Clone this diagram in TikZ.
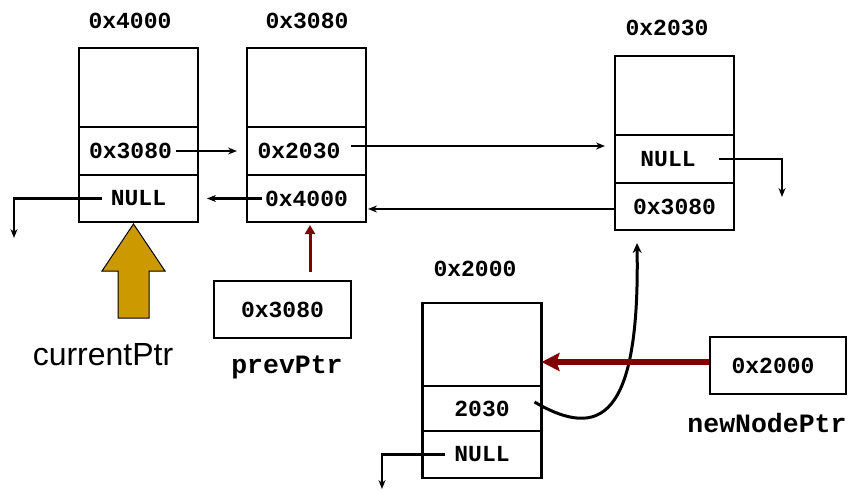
\documentclass[tikz,border=0pt]{standalone}
\usepackage{fontspec}
\setmainfont{Liberation Sans}
\setmonofont{Liberation Mono}
\usepackage{tikz}
\usetikzlibrary{arrows.meta, positioning}
\definecolor{gold}{HTML}{CC9900}
\definecolor{darkred}{HTML}{800000}
\newcommand{\addrfont}{\ttfamily\bfseries\fontsize{23}{26}\selectfont}
\newcommand{\pad}[1]{\rule{#1}{0pt}}

\begin{document}
\begin{tikzpicture}[x=1pt, y=-1pt,
    cell/.style={draw, line width=2.8pt, minimum width=119pt, inner sep=0pt, outer sep=0pt, font=\addrfont},
    ptrbox/.style={draw, line width=2.8pt, minimum width=137pt, minimum height=57pt, inner sep=0pt, font=\addrfont},
    addr/.style={font=\addrfont},
    varname/.style={font=\ttfamily\bfseries\fontsize{26.5}{28}\selectfont},
    link/.style={line width=2.2pt, -{Stealth[length=9pt, width=7pt]}}]
  \useasboundingbox (0,0) rectangle (851,490);

  % node at 0x4000
  \node[cell, minimum height=79pt] (a1) at (138.5,87.5) {};
  \node[cell, minimum height=48pt, below=0pt of a1] (a2) {0x3080\pad{16pt}};
  \node[cell, minimum height=47pt, below=0pt of a2] (a3) {NULL};
  \node[addr] (la) at (130,21) {0x4000};

  % node at 0x3080
  \node[cell, minimum height=79pt] (b1) at (306.5,87.5) {};
  \node[cell, minimum height=48pt, below=0pt of b1] (b2) {0x2030\pad{15pt}};
  \node[cell, minimum height=47pt, below=0pt of b2] (b3) {0x4000};
  \node[addr] (lb) at (307,21) {0x3080};

  % node at 0x2030
  \node[cell, minimum height=79pt] (c1) at (674.5,95.5) {};
  \node[cell, minimum height=48pt, below=0pt of c1] (c2) {NULL\pad{13pt}};
  \node[cell, minimum height=47pt, below=0pt of c2] (c3) {0x3080};
  \node[addr] (lc) at (667,28) {0x2030};

  % new node at 0x2000
  \node[cell, minimum height=83pt] (d1) at (482,344.5) {};
  \node[cell, minimum height=45pt, below=0pt of d1] (d2) {2030};
  \node[cell, minimum height=47pt, below=0pt of d2] (d3) {NULL};
  \node[addr] (ld) at (475,269) {0x2000};

  % pointer variables
  \node[ptrbox] (pp) at (282.5,309.5) {0x3080};
  \node[varname] (lpp) at (287,367) {prevPtr};
  \node[ptrbox, minimum width=136pt] (np) at (778,365.5) {0x2000\pad{10pt}};
  \node[varname] (lnp) at (767,423) {newNodePtr};
  \node[font=\fontsize{32}{34}\selectfont] (cur) at (103,355) {currentPtr};

  \coordinate (anull) at (14,238);
  \coordinate (cnull) at (782,197);
  \coordinate (dnull) at (382,489);

  % next / prev links
  \draw[link] ([xshift=-22pt]a2.east) -- ([xshift=-10pt]b2.west);
  \draw[link] ([xshift=-15pt,yshift=5pt]b2.east) -- ([xshift=-10pt,yshift=13pt]c2.west);
  \draw[link] ([xshift=15pt]b3.west) -- ([xshift=9pt]a3.east);
  \draw[link] ([yshift=-2.5pt]c3.west) -- ([xshift=2pt,yshift=-10.5pt]b3.east);
  \draw[link] ([xshift=23pt]a3.west) -| (anull);
  \draw[link] ([xshift=-15pt]c2.east) -| (cnull);
  \draw[link] ([xshift=22pt]d3.west) -| (dnull);
  \draw[line width=3pt, -{Stealth[length=10pt, width=9pt]}]
    ([xshift=-7pt,yshift=6.5pt]d2.east) .. controls +(65,38) and +(3,177) .. ([xshift=22pt,yshift=-13pt]c3.south west);

  % pointers into the list
  \draw[line width=3pt, darkred, -{Triangle[length=9pt, width=10pt]}]
    ([xshift=27.5pt,yshift=8pt]pp.north) -- ([xshift=3.5pt,yshift=-3pt]b3.south);
  \draw[line width=6pt, darkred, -{Stealth[length=18pt, width=18pt, inset=3pt]}]
    ([yshift=3.5pt]np.west) -- ([yshift=-17.5pt]d1.east);
  \draw[fill=gold, line width=1pt] ([xshift=-5pt,yshift=-2pt]a3.south) -- ++(31.5,47) -- ++(-16,0)
    -- ++(0,47) -- ++(-31,0) -- ++(0,-47) -- ++(-16,0) -- cycle;
\end{tikzpicture}
\end{document}
